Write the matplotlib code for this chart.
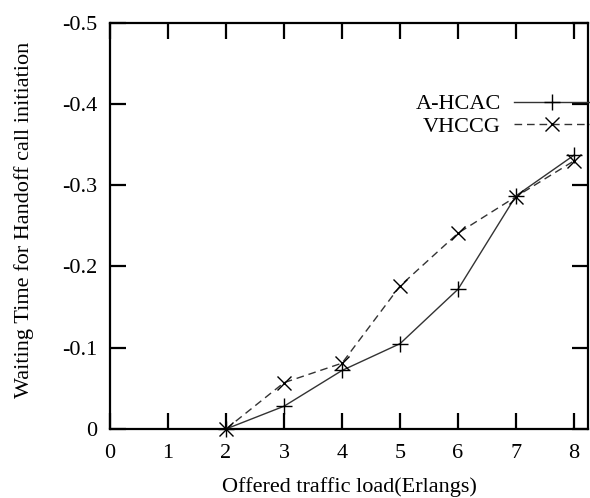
#!/usr/bin/env python3
import matplotlib
matplotlib.use("Agg")
import matplotlib.pyplot as plt

# offered load (Erlangs)
load = [2, 3, 4, 5, 6, 7, 8]
# waiting time for handoff call initiation
ahcac = [0.0, -0.028, -0.072, -0.105, -0.172, -0.287, -0.337]
vhccg = [0.0, -0.057, -0.081, -0.176, -0.241, -0.286, -0.330]

xticks = [0, 1, 2, 3, 4, 5, 6, 7, 8]
yticks = [0, -0.1, -0.2, -0.3, -0.4, -0.5]
ytick_labels = ["0", "-0.1", "-0.2", "-0.3", "-0.4", "-0.5"]

plt.rcParams["font.family"] = ["Liberation Serif", "DejaVu Serif"]
plt.rcParams["font.size"] = 16
plt.rcParams["axes.unicode_minus"] = False

fig = plt.figure(figsize=(5.9, 4.98), dpi=100)
ax = fig.add_axes([0.1864, 0.1386, 0.8102, 0.8158])

ax.plot(load, ahcac, color="#333333", lw=1.0, marker="+", ms=11,
        mew=1.0, mec="black", label="A-HCAC", clip_on=False, zorder=3)
ax.plot(load, vhccg, color="#333333", lw=1.0, ls=(0, (5.5, 3.5)), marker="x",
        ms=10, mew=1.0, mec="black", label="VHCCG", clip_on=False, zorder=3)

ax.set_xlim(0, 8.24)
ax.set_ylim(0, -0.5)
ax.set_xticks(xticks)
ax.set_yticks(yticks)
ax.set_yticklabels(ytick_labels)
ax.tick_params(direction="in", length=11.5, width=1.6, top=True, right=True,
               labelsize=16, pad=9)
ax.tick_params(axis="x", pad=11)
for s in ax.spines.values():
    s.set_linewidth(1.6)

ax.set_xlabel("Offered traffic load(Erlangs)", fontsize=16, labelpad=10)
ax.set_ylabel("Waiting Time for Handoff call initiation", fontsize=16)
ax.yaxis.set_label_coords(-0.158, 0.515)

ax.legend(loc="upper right", bbox_to_anchor=(1.004, 0.825), frameon=False,
          markerfirst=False, handlelength=3.4, handletextpad=0.6,
          labelspacing=0.1, borderpad=0, borderaxespad=0, fontsize=16)

fig.savefig("out.png", dpi=100)
